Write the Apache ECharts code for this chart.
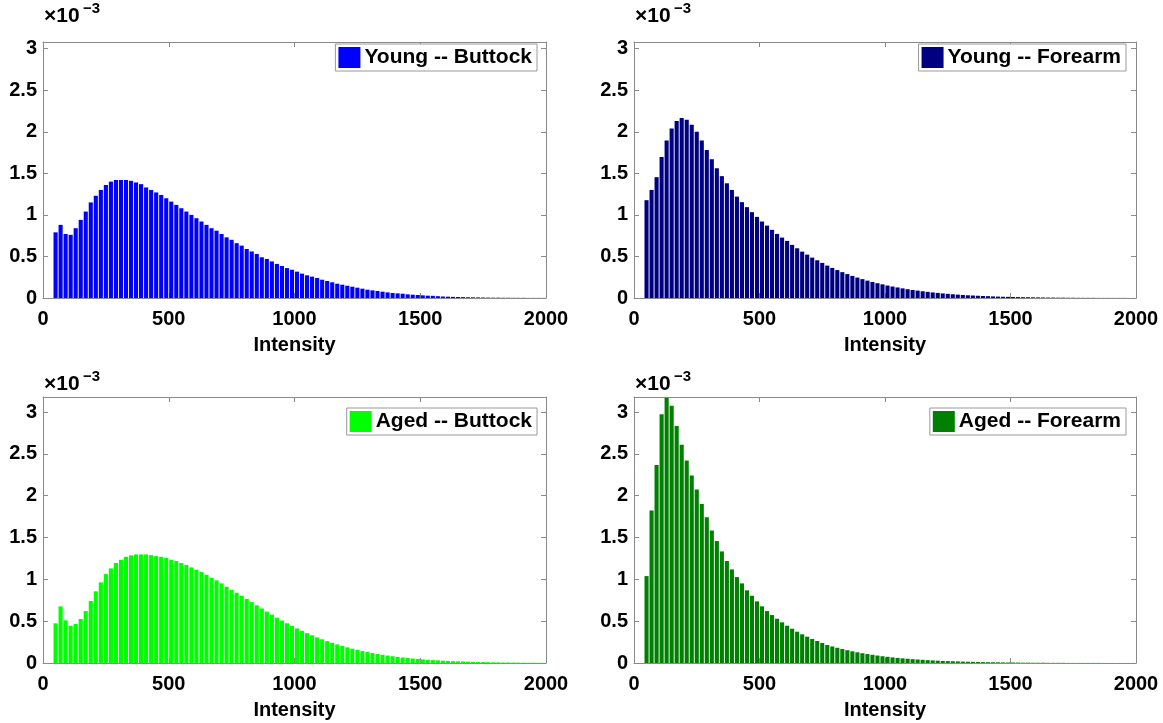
<!DOCTYPE html>
<html><head><meta charset="utf-8">
<script src="https://cdn.jsdelivr.net/npm/echarts@6/dist/echarts.min.js"></script>
<style>html,body{margin:0;padding:0;background:#fff}#c{width:1163px;height:723px}</style>
</head><body><div id="c"></div>
<script>
// Bin centers (Intensity)
const binCenters = [50,70,90,110,130,150,170,190,210,230,250,270,290,310,330,350,370,390,410,430,
450,470,490,510,530,550,570,590,610,630,650,670,690,710,730,750,770,790,810,830,
850,870,890,910,930,950,970,990,1010,1030,1050,1070,1090,1110,1130,1150,1170,1190,1210,1230,
1250,1270,1290,1310,1330,1350,1370,1390,1410,1430,1450,1470,1490,1510,1530,1550,1570,1590,1610,1630,
1650,1670,1690,1710,1730,1750,1770,1790,1810,1830,1850,1870,1890,1910,1930,1950,1970,1990];

// Values in units of 1e-3
const youngButtock = [0.79,0.88,0.77,0.76,0.84,0.94,1.04,1.15,1.23,1.30,
1.36,1.40,1.42,1.42,1.42,1.41,1.39,1.37,1.33,1.30,
1.27,1.24,1.20,1.16,1.12,1.08,1.04,1.00,0.96,0.92,
0.88,0.84,0.81,0.77,0.73,0.70,0.66,0.63,0.59,0.56,
0.53,0.49,0.47,0.44,0.41,0.385,0.36,0.34,0.317,0.293,
0.273,0.257,0.241,0.22,0.205,0.189,0.172,0.16,0.148,0.136,
0.124,0.112,0.10,0.092,0.084,0.076,0.068,0.06,0.056,0.052,
0.044,0.04,0.036,0.032,0.028,0.026,0.022,0.018,0.016,0.014,
0.012,0.011,0.009,0.008,0.007,0.006,0.005,0.004,0.004,0.003,
0.003,0.002,0.002,0.002,0.001,0.001,0.001,0.001];

const youngForearm = [1.177,1.30,1.454,1.695,1.895,2.04,2.13,2.165,2.145,2.084,
2.0,1.895,1.78,1.67,1.56,1.466,1.38,1.30,1.22,1.153,
1.093,1.033,0.976,0.92,0.871,0.82,0.771,0.727,0.687,0.639,
0.598,0.558,0.522,0.486,0.454,0.422,0.39,0.362,0.336,0.311,
0.288,0.266,0.246,0.227,0.209,0.193,0.178,0.164,0.150,0.138,
0.127,0.116,0.106,0.097,0.089,0.081,0.074,0.067,0.061,0.055,
0.050,0.045,0.041,0.037,0.033,0.030,0.027,0.024,0.022,0.019,
0.017,0.015,0.014,0.012,0.011,0.010,0.009,0.008,0.007,0.006,
0.005,0.005,0.004,0.004,0.003,0.003,0.002,0.002,0.002,0.002,
0.001,0.001,0.001,0.001,0.001,0.001,0.0005,0.0005];

const agedButtock = [0.474,0.677,0.51,0.446,0.466,0.526,0.621,0.741,0.857,0.964,
1.063,1.131,1.195,1.234,1.27,1.287,1.298,1.298,1.298,1.29,
1.278,1.27,1.258,1.234,1.219,1.195,1.171,1.143,1.115,1.087,
1.055,1.019,0.988,0.952,0.912,0.876,0.84,0.803,0.766,0.728,
0.69,0.652,0.614,0.578,0.542,0.508,0.475,0.443,0.413,0.384,
0.357,0.331,0.306,0.283,0.261,0.241,0.222,0.204,0.187,0.171,
0.157,0.143,0.131,0.119,0.108,0.098,0.089,0.081,0.073,0.066,
0.06,0.054,0.049,0.044,0.039,0.035,0.032,0.028,0.025,0.022,
0.02,0.018,0.016,0.014,0.012,0.011,0.01,0.008,0.007,0.006,
0.006,0.005,0.004,0.004,0.003,0.003,0.002,0.002];

const agedForearm = [1.039,1.824,2.366,2.975,3.17,3.074,2.832,2.608,2.42,2.243,
2.075,1.90,1.741,1.585,1.458,1.334,1.219,1.119,1.027,0.952,
0.869,0.804,0.737,0.677,0.621,0.573,0.529,0.486,0.446,0.41,
0.374,0.343,0.315,0.287,0.263,0.239,0.215,0.198,0.182,0.167,
0.153,0.14,0.128,0.117,0.107,0.098,0.089,0.081,0.074,0.067,
0.061,0.056,0.051,0.046,0.042,0.038,0.034,0.031,0.028,0.025,
0.023,0.021,0.019,0.017,0.015,0.014,0.012,0.011,0.01,0.009,
0.008,0.007,0.006,0.006,0.005,0.004,0.004,0.003,0.003,0.003,
0.002,0.002,0.002,0.002,0.001,0.001,0.001,0.001,0.001,0.001,
0.001,0.0005,0.0005,0.0005,0.0005,0.0005,0.0005,0.0005];

const seriesNames = ['Young -- Buttock','Young -- Forearm','Aged -- Buttock','Aged -- Forearm'];
const seriesValues = [youngButtock, youngForearm, agedButtock, agedForearm];
const seriesColors = ['#0000ff','#000080','#00ff00','#008000'];
const xTickValues = [0,500,1000,1500,2000];
const yTickStep = 0.5;
const yMaxTop = 3.08, yMaxBottom = 3.18;
const xLabel = 'Intensity';
const exponentBase = '×10', exponentPower = '−3';

const FONT = '"Liberation Sans", Arial, sans-serif';
const AX = '#8a8a8a';
const grids = [
  {left:43, top:42, width:503, height:256},
  {left:634, top:42, width:502, height:256},
  {left:43, top:397, width:503, height:266},
  {left:634, top:397, width:502, height:266}
];
const yMaxes = [yMaxTop, yMaxTop, yMaxBottom, yMaxBottom];
const expTops = [6, 6, 374, 374];

const xAxes = [], yAxes = [], series = [], legends = [], graphics = [];
grids.forEach((g, i) => {
  const common = {axisLine:{show:true,onZero:false,lineStyle:{color:AX,width:1}},
    axisTick:{show:true,inside:true,length:5,lineStyle:{color:AX}},
    splitLine:{show:false}};
  xAxes.push(Object.assign({type:'value',gridIndex:i,position:'bottom',min:xTickValues[0],max:xTickValues[xTickValues.length-1],
    interval:xTickValues[1]-xTickValues[0],
    axisLabel:{show:true,margin:11,fontFamily:FONT,fontWeight:'bold',fontSize:20,color:'#000',
      formatter:v => String(v)},
    name:xLabel,nameLocation:'middle',nameGap:37,
    nameTextStyle:{fontFamily:FONT,fontWeight:'bold',fontSize:20,color:'#000'}}, common));
  yAxes.push(Object.assign({type:'value',gridIndex:i,position:'left',min:0,max:yMaxes[i],interval:yTickStep,
    axisLabel:{show:true,margin:6,fontFamily:FONT,fontWeight:'bold',fontSize:20,color:'#000',
      formatter:v => (Math.abs(v/yTickStep - Math.round(v/yTickStep))<1e-6) ? String(+v.toFixed(2)) : ''}}, common));
});
grids.forEach((g, i) => {
  const common = {axisLine:{show:true,onZero:false,lineStyle:{color:AX,width:1}},
    axisTick:{show:true,inside:true,length:5,lineStyle:{color:AX}},
    splitLine:{show:false},axisLabel:{show:false}};
  xAxes.push(Object.assign({type:'value',gridIndex:i,position:'top',min:xTickValues[0],max:xTickValues[xTickValues.length-1],
    interval:xTickValues[1]-xTickValues[0]}, common));
  yAxes.push(Object.assign({type:'value',gridIndex:i,position:'right',min:0,max:yMaxes[i],interval:yTickStep}, common));
});
seriesNames.forEach((name, i) => {
  series.push({type:'bar',name:name,xAxisIndex:i,yAxisIndex:i,barWidth:'82%',
    itemStyle:{color:seriesColors[i]},
    data:binCenters.map((x,k)=>[x, seriesValues[i][k]]),animation:false});
  const g = grids[i];
  legends.push({data:[name],right:1163-(g.left+g.width)+ (i%2===0?9:10),top:g.top+ (i<2?2:11),
    orient:'vertical',icon:'rect',itemWidth:22,itemHeight:21,
    padding:[3,5,3,3],backgroundColor:'#fff',borderColor:'#9a9a9a',borderWidth:1,borderRadius:0,
    selectedMode:false,
    textStyle:{fontFamily:FONT,fontWeight:'bold',fontSize:21,color:'#000',padding:[0,0,0,-1]}});
  graphics.push({type:'text',left:g.left+1,top:expTops[i],
    style:{text:exponentBase,font:'bold 21px '+FONT,fill:'#000'}});
  graphics.push({type:'text',left:g.left+40,top:expTops[i]-5,
    style:{text:exponentPower,font:'bold 15px '+FONT,fill:'#000'}});
});

const chart = echarts.init(document.getElementById('c'), null, {renderer:'canvas'});
chart.setOption({
  animation:false,
  backgroundColor:'#fff',
  grid:grids.map(g=>Object.assign({containLabel:false},g)),
  xAxis:xAxes, yAxis:yAxes, series:series, legend:legends, graphic:graphics
});
</script></body></html>
